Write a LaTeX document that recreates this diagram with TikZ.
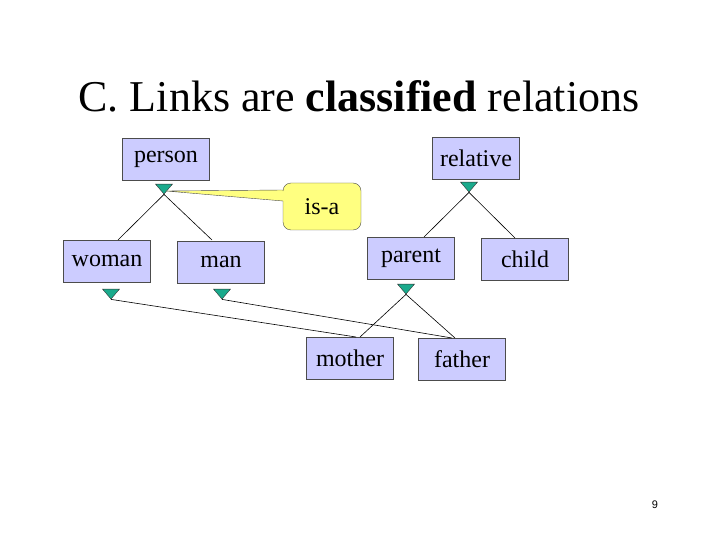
\documentclass[tikz,border=0pt]{standalone}
\usepackage{fontspec}
\usetikzlibrary{shapes.geometric}
\setmainfont{Liberation Serif}
\newfontfamily\pgsans{Liberation Sans}
\definecolor{boxfill}{RGB}{204,204,255}
\definecolor{tri}{RGB}{26,170,140}
\definecolor{callout}{RGB}{255,255,128}
\begin{document}
\begin{tikzpicture}[x=1pt,y=-1pt,
  cbox/.style={draw=black!70,fill=boxfill,minimum width=87pt,minimum height=42pt,font=\fontsize{24}{28}\selectfont,inner sep=0pt},
  trinode/.style={draw=black!80,fill=tri,isosceles triangle,shape border rotate=-90,isosceles triangle apex angle=75,isosceles triangle stretches,minimum width=17pt,minimum height=10pt,inner sep=0pt},
  ln/.style={black,line width=0.6pt}]
\path[use as bounding box] (0,0) rectangle (720,540);
\node (title) at (359,96) {\fontsize{44}{50}\selectfont C. Links are \textbf{classified} relations};
\node[cbox] (person) at (166,159) {person};
\node[cbox] (relative) at (476,158) {relative};
\node[cbox] (woman) at (107,261) {woman};
\node[cbox] (man) at (221,262) {man};
\node[cbox] (parent) at (411,258) {parent};
\node[cbox] (child) at (525,259) {child};
\node[cbox] (mother) at (350,358) {mother};
\node[cbox] (father) at (462,359) {father};
\node[trinode] (tp) at (164,188) {};
\node[trinode] (tr) at (469,186) {};
\node[trinode] (tw) at (111,293) {};
\node[trinode] (tm) at (222,293) {};
\node[trinode] (tpa) at (406,288) {};
\coordinate (cp) at (166,191);
\draw[draw=black!70,fill=callout,rounded corners=8pt] (cp) [sharp corners] -- (283,190) [rounded corners=8pt] -- (283,183) -- (361,183) -- (361,230) -- (283,230) [sharp corners] -- (283,201) -- cycle;
\node[font=\fontsize{24}{28}\selectfont] (isa) at (322,207) {is-a};
\draw[ln] (tp.apex) -- (118,240);
\draw[ln] (tp.apex) -- (212,240);
\draw[ln] (tr.apex) -- (424,237);
\draw[ln] (tr.apex) -- (515,238);
\draw[ln] (tpa.apex) -- (360,337);
\draw[ln] (tpa.apex) -- (455,338);
\draw[ln] (tw.apex) -- (356,337);
\draw[ln] (tm.apex) -- (452,338);
\node[font=\pgsans\fontsize{11}{13}\selectfont] (pg) at (655,505) {9};
\end{tikzpicture}
\end{document}
